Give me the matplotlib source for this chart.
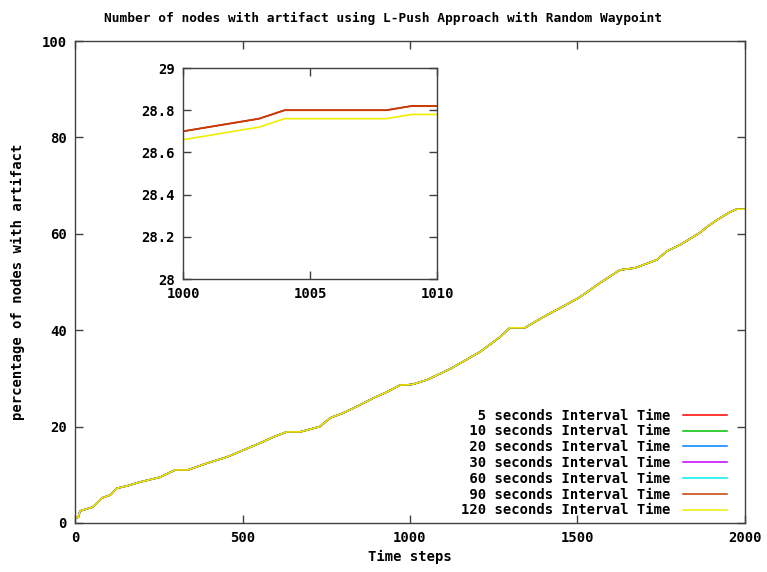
import numpy as np
import matplotlib.pyplot as plt

FONT = "DejaVu Sans Mono"

SERIES_LABELS = [
    "5 seconds Interval Time",
    "10 seconds Interval Time",
    "20 seconds Interval Time",
    "30 seconds Interval Time",
    "60 seconds Interval Time",
    "90 seconds Interval Time",
    "120 seconds Interval Time",
]
SERIES_COLORS = ["#ff0000", "#00c000", "#0080ff", "#c000ff", "#00eeee", "#c04000", "#eeee00"]

# main curve (all series sit on top of each other at this scale)
time_steps = [0, 10, 15, 53, 81, 105, 125, 156, 194, 254, 299, 337, 394, 454, 502, 553, 591,
              632, 672, 731, 762, 800, 851, 890, 932, 970, 1000, 1010, 1051, 1121, 1209, 1269,
              1298, 1343, 1397, 1448, 1508, 1567, 1627, 1671, 1737, 1767, 1806, 1865, 1886,
              1917, 1955, 1975, 2000]
pct_nodes = [1.0, 1.2, 2.5, 3.3, 5.2, 5.8, 7.2, 7.7, 8.5, 9.5, 11.0, 11.0, 12.4, 13.7, 15.1,
             16.6, 17.8, 18.9, 18.9, 20.0, 21.8, 22.8, 24.5, 25.9, 27.2, 28.6, 28.7, 28.8,
             29.7, 32.0, 35.5, 38.6, 40.5, 40.5, 42.7, 44.6, 46.9, 49.8, 52.5, 52.9, 54.6,
             56.4, 57.7, 60.2, 61.4, 62.9, 64.5, 65.1, 65.1]

# zoomed window 1000..1010
inset_steps = [1000, 1001, 1002, 1003, 1004, 1005, 1006, 1007, 1008, 1009, 1010]
inset_5s = [28.70, 28.72, 28.74, 28.76, 28.80, 28.80, 28.80, 28.80, 28.80, 28.82, 28.82]
inset_90s = [28.70, 28.72, 28.74, 28.76, 28.80, 28.80, 28.80, 28.80, 28.80, 28.82, 28.82]
inset_120s = [28.66, 28.68, 28.70, 28.72, 28.76, 28.76, 28.76, 28.76, 28.76, 28.78, 28.78]


def style_axes(ax, fs):
    for s in ax.spines.values():
        s.set_color("#404040")
        s.set_linewidth(1.0)
    ax.tick_params(direction="in", length=6, width=1, color="#404040",
                   top=True, right=True, labelsize=fs, pad=6)
    for lbl in ax.get_xticklabels() + ax.get_yticklabels():
        lbl.set_fontfamily(FONT)
        lbl.set_fontweight("bold")


fig = plt.figure(figsize=(7.67, 5.72), dpi=100)
ax = fig.add_axes([0.0978, 0.0857, 0.8735, 0.8426])

for label, color in zip(SERIES_LABELS, SERIES_COLORS):
    padded = label.rjust(len(SERIES_LABELS[-1]))
    ax.plot(time_steps, pct_nodes, color=color, lw=1.1, label=padded)

ax.set_xlim(0, 2000)
ax.set_ylim(0, 100)
ax.set_xticks([0, 500, 1000, 1500, 2000])
ax.set_yticks(np.arange(0, 101, 20))
style_axes(ax, 10)

ax.set_xlabel("Time steps", fontfamily=FONT, fontweight="bold", fontsize=10, labelpad=3)
ax.set_ylabel("percentage of nodes with artifact", fontfamily=FONT, fontweight="bold",
              fontsize=10, labelpad=12)
fig.suptitle("Number of nodes with artifact using L-Push Approach with Random Waypoint",
             fontfamily=FONT, fontweight="bold", fontsize=9.3, y=0.98)

leg = ax.legend(loc="lower right", frameon=False, markerfirst=False,
                prop={"family": FONT, "weight": "bold", "size": 10},
                handlelength=3.2, handletextpad=0.9, labelspacing=0.13,
                borderaxespad=0.0, bbox_to_anchor=(0.982, 0.0))

# inset
ins = fig.add_axes([0.2386, 0.5122, 0.3312, 0.3689])
ins.plot(inset_steps, inset_5s, color=SERIES_COLORS[0], lw=1.2)
ins.plot(inset_steps, inset_90s, color=SERIES_COLORS[5], lw=1.2)
ins.plot(inset_steps, inset_120s, color=SERIES_COLORS[6], lw=1.2)
ins.set_xlim(1000, 1010)
ins.set_ylim(28, 29)
ins.set_xticks([1000, 1005, 1010])
ins.set_yticks([28, 28.2, 28.4, 28.6, 28.8, 29])
ins.set_yticklabels(["28", "28.2", "28.4", "28.6", "28.8", "29"])
style_axes(ins, 10)

fig.savefig("out.png", dpi=100)
